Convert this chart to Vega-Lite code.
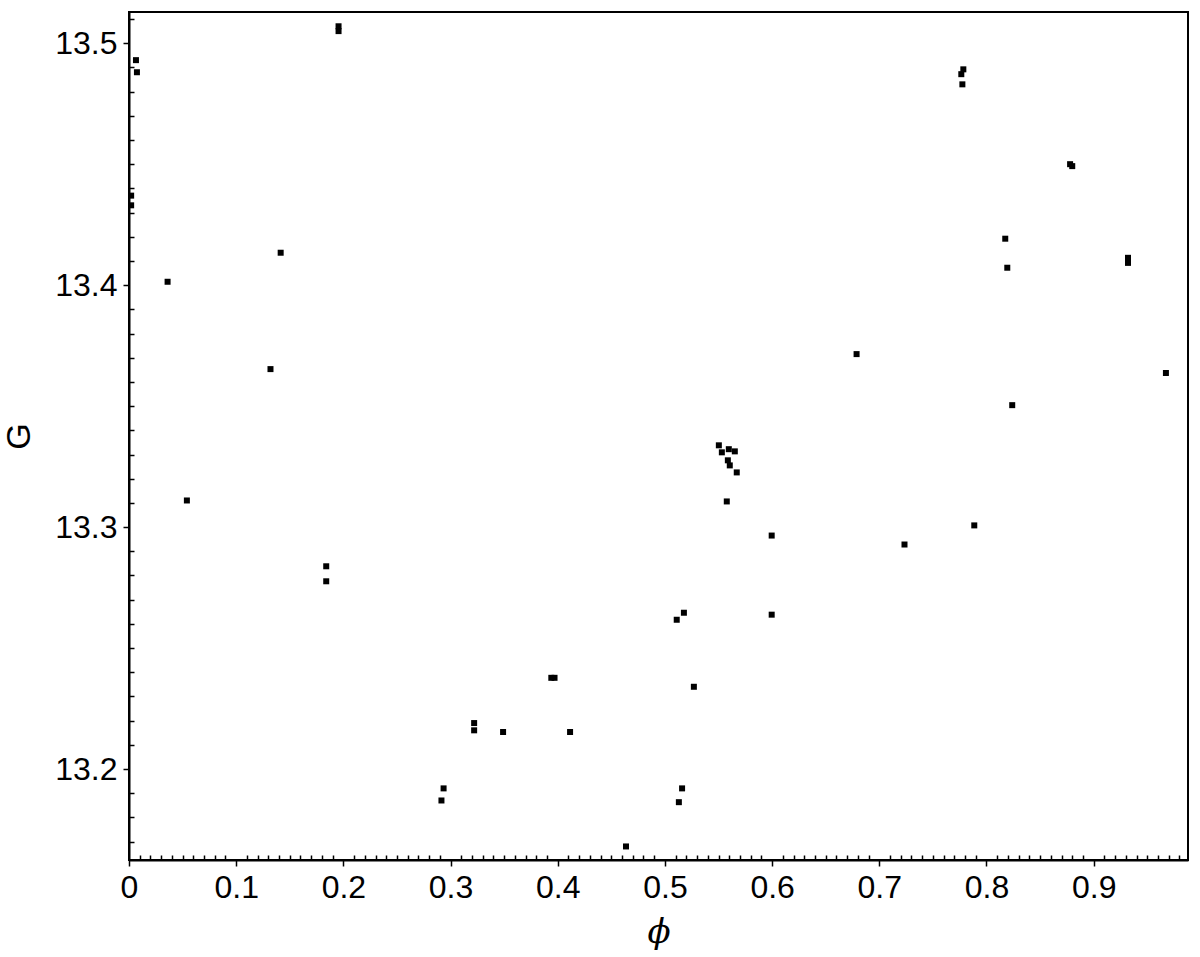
{
  "$schema": "https://vega.github.io/schema/vega-lite/v6.json",
  "autosize": {"type": "none"},
  "padding": {"left": 129, "top": 12, "right": 12, "bottom": 97},
  "width": 1059,
  "height": 848,
  "background": "white",
  "config": {
    "view": {"stroke": "black", "strokeWidth": 2},
    "axis": {"labelFont": "Liberation Sans", "titleFont": "Liberation Sans", "labelFontSize": 32, "titleFontSize": 34, "labelColor": "black", "titleColor": "black", "domainColor": "black", "tickColor": "black", "domainWidth": 2, "tickWidth": 1.5, "grid": false, "labelOverlap": false, "labelFlush": false, "titleFontWeight": "normal"}
  },
  "data": {"values": [
    {"phi": 0.0065, "G": 13.493},
    {"phi": 0.0074, "G": 13.488},
    {"phi": 0.002, "G": 13.437},
    {"phi": 0.002, "G": 13.433},
    {"phi": 0.1955, "G": 13.507},
    {"phi": 0.1955, "G": 13.505},
    {"phi": 0.036, "G": 13.4014},
    {"phi": 0.1415, "G": 13.4134},
    {"phi": 0.132, "G": 13.3653},
    {"phi": 0.054, "G": 13.311},
    {"phi": 0.184, "G": 13.2838},
    {"phi": 0.184, "G": 13.2776},
    {"phi": 0.2915, "G": 13.187},
    {"phi": 0.2935, "G": 13.192},
    {"phi": 0.322, "G": 13.219},
    {"phi": 0.322, "G": 13.216},
    {"phi": 0.349, "G": 13.2153},
    {"phi": 0.394, "G": 13.2377},
    {"phi": 0.397, "G": 13.2377},
    {"phi": 0.4115, "G": 13.2153},
    {"phi": 0.4637, "G": 13.168},
    {"phi": 0.511, "G": 13.2617},
    {"phi": 0.5177, "G": 13.2646},
    {"phi": 0.513, "G": 13.1863},
    {"phi": 0.516, "G": 13.192},
    {"phi": 0.527, "G": 13.234},
    {"phi": 0.5503, "G": 13.3338},
    {"phi": 0.5531, "G": 13.3309},
    {"phi": 0.5596, "G": 13.3322},
    {"phi": 0.5652, "G": 13.3313},
    {"phi": 0.5587, "G": 13.3276},
    {"phi": 0.5605, "G": 13.3255},
    {"phi": 0.567, "G": 13.3226},
    {"phi": 0.5577, "G": 13.3106},
    {"phi": 0.5996, "G": 13.2965},
    {"phi": 0.5996, "G": 13.2638},
    {"phi": 0.6788, "G": 13.3715},
    {"phi": 0.7235, "G": 13.2928},
    {"phi": 0.7886, "G": 13.3007},
    {"phi": 0.7784, "G": 13.4892},
    {"phi": 0.7765, "G": 13.4872},
    {"phi": 0.7775, "G": 13.483},
    {"phi": 0.8175, "G": 13.4192},
    {"phi": 0.8194, "G": 13.4072},
    {"phi": 0.824, "G": 13.3504},
    {"phi": 0.878, "G": 13.45},
    {"phi": 0.88, "G": 13.4492},
    {"phi": 0.932, "G": 13.4113},
    {"phi": 0.932, "G": 13.4092},
    {"phi": 0.9674, "G": 13.3637}
  ]},
  "mark": {"type": "square", "color": "black", "opacity": 1, "size": 36, "clip": true},
  "encoding": {
    "x": {
      "field": "phi", "type": "quantitative",
      "scale": {"domain": [0, 0.988], "nice": false, "zero": false},
      "axis": {
        "title": "ϕ",
        "titleFont": "DejaVu Serif",
        "titleFontStyle": "italic",
        "titlePadding": 12,
        "values": [0,0.01,0.02,0.03,0.04,0.05,0.06,0.07,0.08,0.09,0.1,0.11,0.12,0.13,0.14,0.15,0.16,0.17,0.18,0.19,0.2,0.21,0.22,0.23,0.24,0.25,0.26,0.27,0.28,0.29,0.3,0.31,0.32,0.33,0.34,0.35,0.36,0.37,0.38,0.39,0.4,0.41,0.42,0.43,0.44,0.45,0.46,0.47,0.48,0.49,0.5,0.51,0.52,0.53,0.54,0.55,0.56,0.57,0.58,0.59,0.6,0.61,0.62,0.63,0.64,0.65,0.66,0.67,0.68,0.69,0.7,0.71,0.72,0.73,0.74,0.75,0.76,0.77,0.78,0.79,0.8,0.81,0.82,0.83,0.84,0.85,0.86,0.87,0.88,0.89,0.9,0.91,0.92,0.93,0.94,0.95,0.96,0.97,0.98],
        "tickSize": {"condition": {"test": "abs(datum.value*10 - round(datum.value*10)) < 0.001", "value": 6}, "value": -5},
        "labelExpr": "abs(datum.value*10 - round(datum.value*10)) < 0.001 ? format(datum.value, '.1~f') : ''",
        "labelPadding": 6
      }
    },
    "y": {
      "field": "G", "type": "quantitative",
      "scale": {"domain": [13.1624, 13.5129], "nice": false, "zero": false},
      "axis": {
        "title": "G",
        "titlePadding": 18,
        "values": [13.17,13.18,13.19,13.2,13.21,13.22,13.23,13.24,13.25,13.26,13.27,13.28,13.29,13.3,13.31,13.32,13.33,13.34,13.35,13.36,13.37,13.38,13.39,13.4,13.41,13.42,13.43,13.44,13.45,13.46,13.47,13.48,13.49,13.5,13.51],
        "tickSize": {"condition": {"test": "abs(datum.value*10 - round(datum.value*10)) < 0.001", "value": 6}, "value": -5},
        "labelExpr": "abs(datum.value*10 - round(datum.value*10)) < 0.001 ? format(datum.value, '.1f') : ''",
        "labelPadding": 6
      }
    }
  }
}
